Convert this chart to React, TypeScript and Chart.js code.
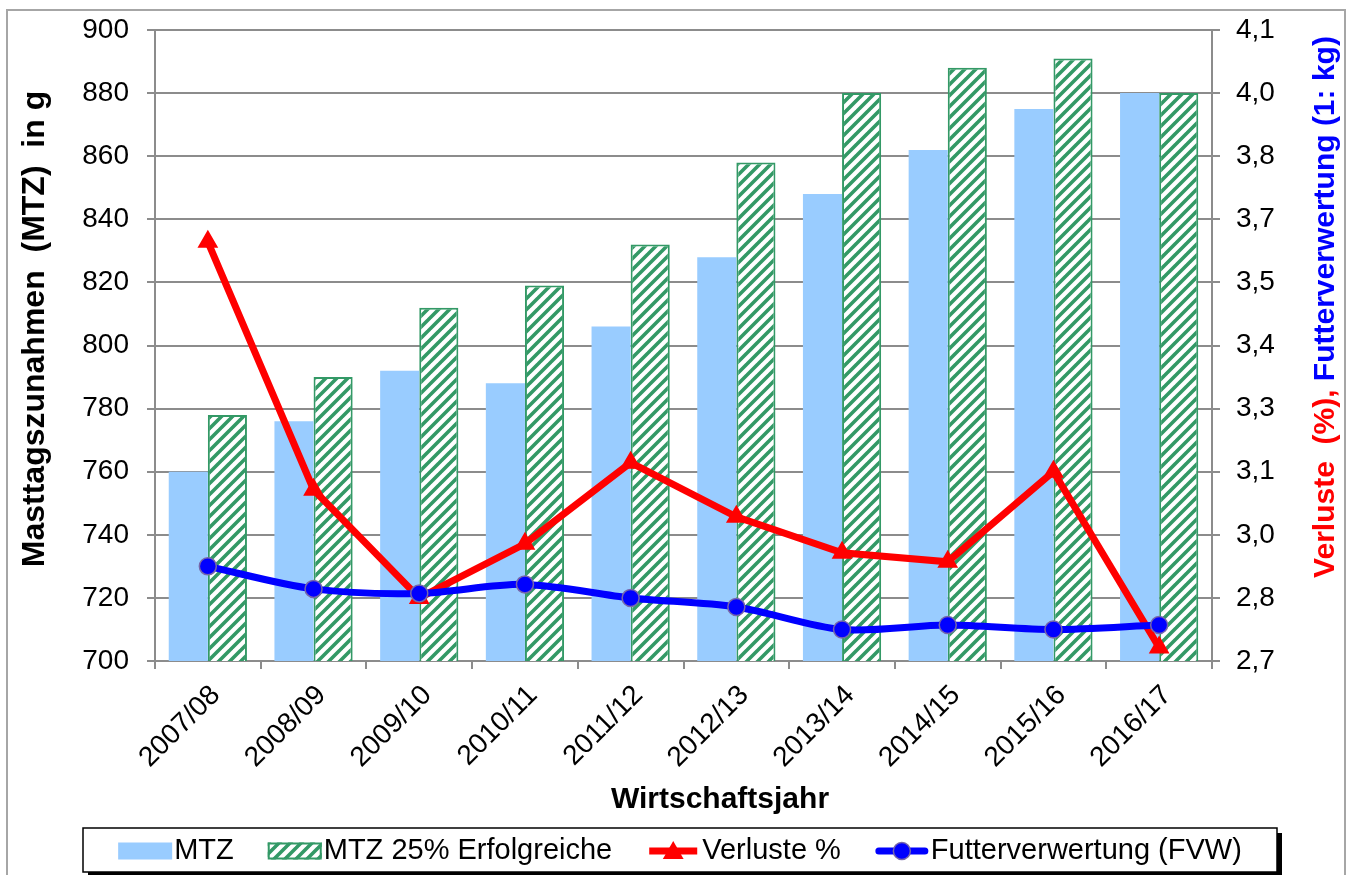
import React, { useEffect, useRef } from "react";
import { Chart, registerables } from "chart.js";

Chart.register(...registerables);

const FONT = "'Liberation Sans', Arial, Helvetica, sans-serif";

const categories = [
  "2007/08", "2008/09", "2009/10", "2010/11", "2011/12",
  "2012/13", "2013/14", "2014/15", "2015/16", "2016/17",
];
const mtz = [760, 776, 792, 788, 806, 828, 848, 862, 875, 880];
const mtzTop25 = [778, 790, 812, 819, 832, 858, 880, 888, 891, 880];
const verluste = [3.63, 3.08, 2.84, 2.96, 3.14, 3.02, 2.94, 2.92, 3.12, 2.73];
const fvw = [2.91, 2.86, 2.85, 2.87, 2.84, 2.82, 2.77, 2.78, 2.77, 2.78];

const leftMin = 700;
const leftMax = 900;
const leftStep = 20;
const rightMin = 2.7;
const rightMax = 4.1;
const rightTickLabels = ["2,7", "2,8", "3,0", "3,1", "3,3", "3,4", "3,5", "3,7", "3,8", "4,0", "4,1"];

const seriesNames = ["MTZ", "MTZ 25% Erfolgreiche", "Verluste %", "Futterverwertung (FVW)"];
const leftTitle = "Masttagszunahmen  (MTZ)  in g";
const rightTitleRed = "Verluste  (%), ";
const rightTitleBlue = "Futterverwertung (1: kg)";
const xTitle = "Wirtschaftsjahr";

const BLUE_BAR = "#99ccff";
const GREEN = "#339966";
const RED = "#ff0000";
const BLUE = "#0000ff";
const MARKER_EDGE = "#7766aa";
const GRID = "#8c8c8c";

function makeHatch(ctx: CanvasRenderingContext2D): CanvasPattern | string {
  const s = 11;
  const c = document.createElement("canvas");
  c.width = s;
  c.height = s;
  const g = c.getContext("2d");
  if (!g) return GREEN;
  g.fillStyle = "#ffffff";
  g.fillRect(0, 0, s, s);
  g.strokeStyle = GREEN;
  g.lineWidth = 3.6;
  g.beginPath();
  for (const off of [-s, 0, s]) {
    g.moveTo(off - 1, s + 1);
    g.lineTo(off + s + 1, -1);
  }
  g.stroke();
  return ctx.createPattern(c, "repeat") || GREEN;
}

function drawTriangle(ctx: CanvasRenderingContext2D, cx: number, cy: number, r: number) {
  ctx.beginPath();
  ctx.moveTo(cx, cy - r);
  ctx.lineTo(cx + r * 0.866, cy + r * 0.5);
  ctx.lineTo(cx - r * 0.866, cy + r * 0.5);
  ctx.closePath();
  ctx.fill();
}

export default function App() {
  const ref = useRef<HTMLCanvasElement>(null);

  useEffect(() => {
    const canvas = ref.current;
    if (!canvas) return;
    const ctx0 = canvas.getContext("2d") as CanvasRenderingContext2D;
    const hatch = makeHatch(ctx0);

    const overlay = {
      id: "overlay",
      afterDraw(chart: any) {
        const ctx: CanvasRenderingContext2D = chart.ctx;
        const a = chart.chartArea;
        ctx.save();
        // outer frame
        ctx.strokeStyle = "#a6a6a6";
        ctx.lineWidth = 2;
        ctx.strokeRect(7, 10, 1338, 900);

        // left axis title
        ctx.fillStyle = "#000";
        ctx.font = `bold 32px ${FONT}`;
        ctx.textAlign = "center";
        ctx.textBaseline = "middle";
        ctx.save();
        ctx.translate(a.left - 120, 329);
        ctx.rotate(-Math.PI / 2);
        ctx.fillText(leftTitle, 0, 0);
        ctx.restore();

        // right axis title (two colours)
        ctx.font = `bold 30px ${FONT}`;
        const wRed = ctx.measureText(rightTitleRed).width;
        const wBlue = ctx.measureText(rightTitleBlue).width;
        const total = wRed + wBlue;
        ctx.save();
        ctx.translate(a.right + 114, 307);
        ctx.rotate(-Math.PI / 2);
        ctx.textAlign = "left";
        ctx.fillStyle = RED;
        ctx.fillText(rightTitleRed, -total / 2, 0);
        ctx.fillStyle = BLUE;
        ctx.fillText(rightTitleBlue, -total / 2 + wRed, 0);
        ctx.restore();

        // x axis title
        ctx.fillStyle = "#000";
        ctx.textAlign = "center";
        ctx.fillText(xTitle, 720, a.bottom + 139);

        // legend
        const lx = 83, ly = 828, lw = 1194, lh = 44;
        ctx.fillStyle = "#000";
        ctx.fillRect(lx + 5, ly + 5, lw, lh);
        ctx.fillStyle = "#fff";
        ctx.fillRect(lx, ly, lw, lh);
        ctx.strokeStyle = "#000";
        ctx.lineWidth = 1.5;
        ctx.strokeRect(lx, ly, lw, lh);

        ctx.font = `29px ${FONT}`;
        ctx.textBaseline = "middle";
        ctx.textAlign = "left";
        const widths = seriesNames.map((t) => ctx.measureText(t).width);
        const sw = 54, gt = 2, gap = 34;
        const content = widths.reduce((s, w) => s + sw + gt + w, 0) + gap * (seriesNames.length - 1);
        let x = lx + (lw - content) / 2;
        const cy = ly + lh / 2 + 1;
        seriesNames.forEach((t, i) => {
          if (i === 0) {
            ctx.fillStyle = BLUE_BAR;
            ctx.fillRect(x, cy - 8.5, sw, 17);
          } else if (i === 1) {
            ctx.fillStyle = hatch as any;
            ctx.fillRect(x, cy - 8.5, sw, 17);
            ctx.strokeStyle = GREEN;
            ctx.lineWidth = 2;
            ctx.strokeRect(x + 1, cy - 7.5, sw - 2, 15);
          } else if (i === 2) {
            ctx.strokeStyle = RED;
            ctx.lineWidth = 7;
            ctx.beginPath();
            ctx.moveTo(x + 3, cy);
            ctx.lineTo(x + sw - 3, cy);
            ctx.stroke();
            ctx.fillStyle = RED;
            drawTriangle(ctx, x + sw / 2, cy + 2, 12);
          } else {
            ctx.strokeStyle = BLUE;
            ctx.lineWidth = 7;
            ctx.lineCap = "round";
            ctx.beginPath();
            ctx.moveTo(x + 4, cy);
            ctx.lineTo(x + sw - 4, cy);
            ctx.stroke();
            ctx.lineCap = "butt";
            ctx.fillStyle = BLUE;
            ctx.beginPath();
            ctx.arc(x + sw / 2, cy, 8.5, 0, Math.PI * 2);
            ctx.fill();
            ctx.strokeStyle = MARKER_EDGE;
            ctx.lineWidth = 1.5;
            ctx.stroke();
          }
          ctx.fillStyle = "#000";
          ctx.fillText(t, x + sw + gt, cy);
          x += sw + gt + widths[i] + gap;
        });
        ctx.restore();
      },
    };

    const tickFont = { family: FONT, size: 28 };

    const chart = new Chart(canvas, {
      type: "bar",
      data: {
        labels: categories,
        datasets: [
          {
            type: "line",
            label: seriesNames[3],
            data: fvw,
            yAxisID: "y1",
            borderColor: BLUE,
            backgroundColor: BLUE,
            borderWidth: 7,
            tension: 0.3,
            borderJoinStyle: "round",
            borderCapStyle: "round",
            pointStyle: "circle",
            pointRadius: 8.5,
            pointBackgroundColor: BLUE,
            pointBorderColor: MARKER_EDGE,
            pointBorderWidth: 1.5,
            order: 0,
          } as any,
          {
            type: "line",
            label: seriesNames[2],
            data: verluste,
            yAxisID: "y1",
            borderColor: RED,
            backgroundColor: RED,
            borderWidth: 7,
            tension: 0,
            pointStyle: "triangle",
            pointRadius: 10,
            pointBackgroundColor: RED,
            pointBorderColor: RED,
            pointBorderWidth: 2,
            order: 1,
          } as any,
          {
            type: "bar",
            label: seriesNames[0],
            data: mtz,
            yAxisID: "y",
            backgroundColor: BLUE_BAR,
            borderWidth: 0,
            categoryPercentage: 0.74,
            barPercentage: 1,
            order: 2,
          } as any,
          {
            type: "bar",
            label: seriesNames[1],
            data: mtzTop25,
            yAxisID: "y",
            backgroundColor: hatch,
            borderColor: GREEN,
            borderWidth: 2,
            borderSkipped: false,
            categoryPercentage: 0.74,
            barPercentage: 1,
            order: 2,
          } as any,
        ],
      },
      options: {
        responsive: false,
        animation: false,
        devicePixelRatio: 1,
        layout: { autoPadding: false, padding: { top: 30, left: 0, right: 0, bottom: 0 } },
        plugins: {
          legend: { display: false },
          tooltip: { enabled: false },
          title: { display: false },
        },
        scales: {
          x: {
            grid: {
              display: true,
              drawOnChartArea: false,
              drawTicks: true,
              tickLength: 8,
              color: GRID,
              lineWidth: 2,
              offset: true,
            },
            border: { display: true, color: GRID, width: 2 },
            ticks: {
              color: "#000",
              font: tickFont,
              minRotation: 45,
              maxRotation: 45,
              autoSkip: false,
              padding: 10,
              labelOffset: 8,
            },
            afterFit: (s: any) => {
              s.height = 214;
              s.paddingLeft = 0;
              s.paddingRight = 0;
            },
          },
          y: {
            position: "left",
            min: leftMin,
            max: leftMax,
            ticks: { stepSize: leftStep, color: "#000", font: tickFont, padding: 18 },
            grid: { color: GRID, lineWidth: 2, tickLength: 8 },
            border: { display: true, color: GRID, width: 2 },
            afterFit: (s: any) => {
              s.width = 155;
              s.paddingTop = 0;
              s.paddingBottom = 0;
            },
          },
          y1: {
            position: "right",
            min: rightMin,
            max: rightMax,
            ticks: {
              count: rightTickLabels.length,
              color: "#000",
              font: tickFont,
              padding: 16,
              callback: (_v: any, i: number) => rightTickLabels[i],
            },
            grid: { drawOnChartArea: false, color: GRID, lineWidth: 2, tickLength: 8 },
            border: { display: true, color: GRID, width: 2 },
            afterFit: (s: any) => {
              s.width = 139;
              s.paddingTop = 0;
              s.paddingBottom = 0;
            },
          },
        },
      } as any,
      plugins: [overlay],
    });

    return () => chart.destroy();
  }, []);

  return (
    <div style={{ position: "fixed", left: 0, top: 0, width: 1351, height: 875, background: "#fff" }}>
      <canvas ref={ref} width={1351} height={875} style={{ display: "block" }} />
    </div>
  );
}
